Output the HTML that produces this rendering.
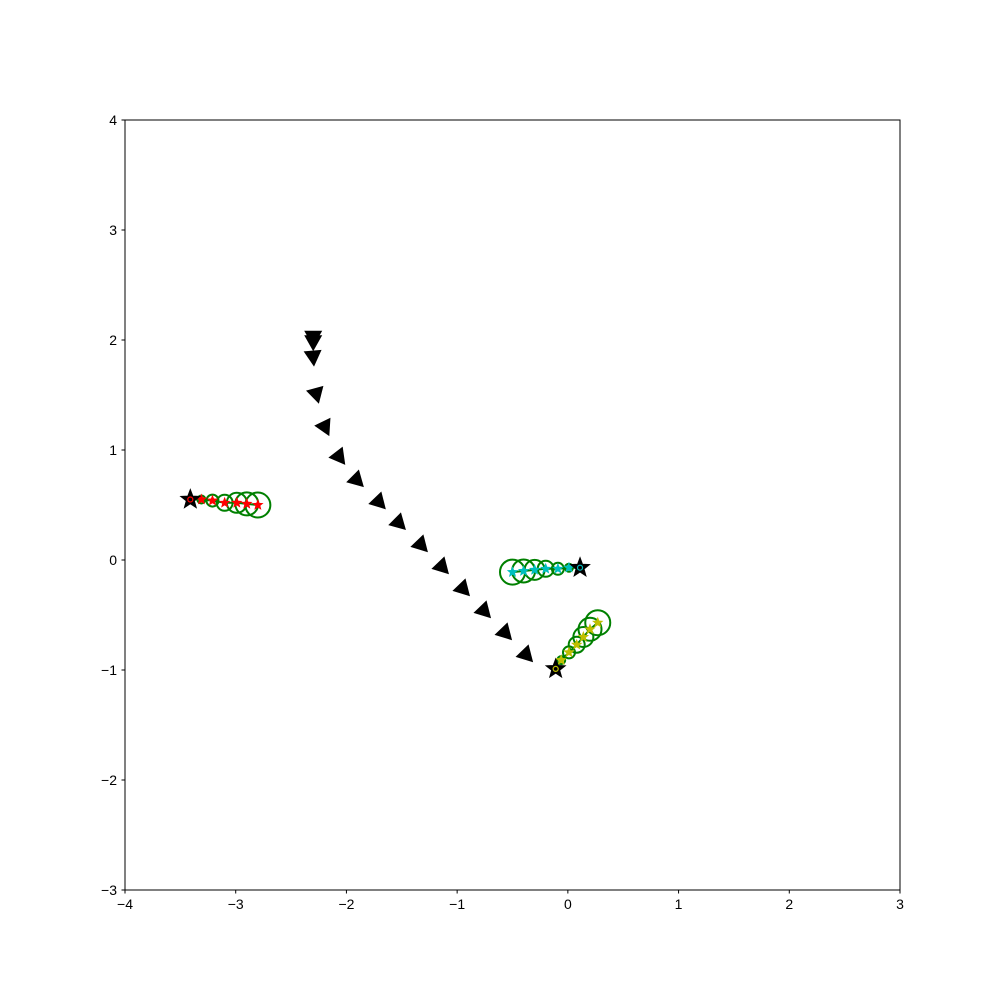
<!DOCTYPE html>
<html><head><meta charset="utf-8"><style>
body{margin:0;background:#fff}
svg{display:block;font-family:"Liberation Sans","DejaVu Sans",sans-serif}
</style></head><body>
<svg id="chart" width="1000" height="1000" viewBox="0 0 1000 1000">
<rect x="0" y="0" width="1000" height="1000" fill="#fff"/>
<g id="plot"></g>
<rect x="125" y="120" width="775" height="770" fill="none" stroke="#000" stroke-width="1"/>
<g id="axes"></g>
</svg>
<script>
const xTicks=[-4,-3,-2,-1,0,1,2,3];
const yTicks=[-3,-2,-1,0,1,2,3,4];
const triX=[-2.30,-2.30,-2.30,-2.27,-2.19,-2.06,-1.90,-1.70,-1.52,-1.32,-1.13,-0.94,-0.75,-0.56,-0.37];
const triY=[2.02,1.98,1.84,1.50,1.20,0.93,0.72,0.52,0.33,0.13,-0.07,-0.27,-0.47,-0.67,-0.87];
const redX=[-3.31,-3.21,-3.10,-2.99,-2.90,-2.80];
const redY=[0.55,0.54,0.52,0.52,0.51,0.50];
const redR=[4,6,8,10,11.5,12.5];
const redStart=[-3.41,0.55];
const cyanX=[0.01,-0.09,-0.20,-0.30,-0.40,-0.50];
const cyanY=[-0.07,-0.08,-0.08,-0.09,-0.10,-0.11];
const cyanR=[4,6,8,10,11.5,12.5];
const cyanStart=[0.11,-0.07];
const yelX=[-0.06,0.01,0.08,0.14,0.20,0.27];
const yelY=[-0.91,-0.84,-0.77,-0.70,-0.63,-0.57];
const yelR=[4,6,8,10,11.5,12.5];
const yelStart=[-0.11,-0.99];

const X=v=>125+(v+4)*775/7;
const Y=v=>120+(4-v)*770/7;
const NS='http://www.w3.org/2000/svg';
const plot=document.getElementById('plot');
const axes=document.getElementById('axes');
function mk(tag,attrs,parent){const e=document.createElementNS(NS,tag);for(const k in attrs)e.setAttribute(k,attrs[k]);parent.appendChild(e);return e;}
function starPts(cx,cy,R,r){let p=[];for(let i=0;i<10;i++){const a=-Math.PI/2+i*Math.PI/5;const rr=i%2?r:R;p.push((cx+rr*Math.cos(a)).toFixed(2)+','+(cy+rr*Math.sin(a)).toFixed(2));}return p.join(' ');}

xTicks.forEach(t=>{
  const l=mk('line',{x1:X(t),x2:X(t),y1:890,y2:893.5,stroke:'#000'},axes);
  
  
  const tx=mk('text',{x:X(t),y:909,'font-size':14,'text-anchor':'middle'},axes);
  tx.textContent=(t<0?'\u2212'+(-t):t);
  
  
});
yTicks.forEach(t=>{
  const l=mk('line',{x1:121.5,x2:125,y1:Y(t),y2:Y(t),stroke:'#000'},axes);
  
  
  const tx=mk('text',{x:117,y:Y(t)+5,'font-size':14,'text-anchor':'end'},axes);
  tx.textContent=(t<0?'\u2212'+(-t):t);
  
  
});

for(let i=0;i<triX.length;i++){
  const j=Math.min(i+1,triX.length-1), k=j===i?i-1:i;
  const dx=X(triX[j])-X(triX[k]), dy=Y(triY[j])-Y(triY[k]);
  const ang=Math.atan2(dy,dx)*180/Math.PI-90;
  const cx=X(triX[i]), cy=Y(triY[i]);
  const t=mk('polygon',{points:'-9,-7 9,-7 0,9',fill:'#000',transform:`translate(${cx},${cy}) rotate(${ang})`},plot);
  
  
}

function cluster(xs,ys,rs,start,col,name){
  const pts=[start].concat(xs.map((x,i)=>[x,ys[i]]));
  const pl=mk('polyline',{points:pts.map(p=>X(p[0])+','+Y(p[1])).join(' '),fill:'none',stroke:'green','stroke-width':2},plot);
  
  
  for(let i=0;i<xs.length;i++){
    const c=mk('circle',{cx:X(xs[i]),cy:Y(ys[i]),r:rs[i],fill:'none',stroke:'green','stroke-width':2},plot);
    
    
  }
  for(let i=0;i<xs.length;i++){
    const s=mk('polygon',{points:starPts(X(xs[i]),Y(ys[i]),6,2.6),fill:col},plot);
    
    
  }
  const st=mk('polygon',{points:starPts(X(start[0]),Y(start[1]),10,4.2),fill:'#000',stroke:'#000','stroke-width':1},plot);
  
  
  const d=mk('circle',{cx:X(start[0]),cy:Y(start[1]),r:2.5,fill:'none',stroke:col,'stroke-width':1.2},plot);
  
  
}
cluster(redX,redY,redR,redStart,'#ff0000','red');
cluster(cyanX,cyanY,cyanR,cyanStart,'#00bfbf','cyan');
cluster(yelX,yelY,yelR,yelStart,'#bfbf00','yellow');
</script>
</body></html>
